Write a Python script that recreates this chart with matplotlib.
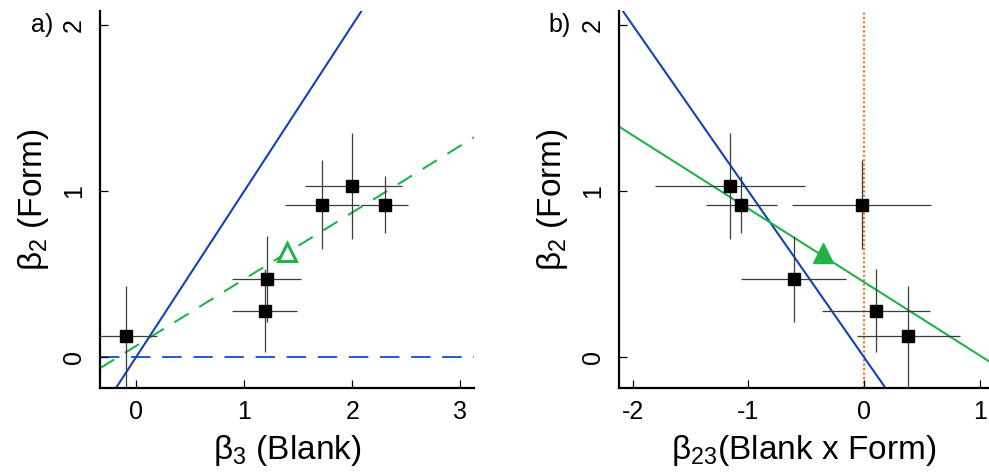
import matplotlib
matplotlib.use("Agg")
import matplotlib.pyplot as plt
import numpy as np

plt.rcParams['font.family'] = ['Liberation Sans', 'DejaVu Sans']
plt.rcParams['mathtext.fontset'] = 'custom'
plt.rcParams['mathtext.rm'] = 'Liberation Sans'
plt.rcParams['mathtext.default'] = 'regular'
plt.rcParams['axes.unicode_minus'] = False

# estimates for the six groups (same order in both panels)
beta2 = [0.13, 0.47, 0.28, 0.92, 1.03, 0.92]
beta2_lo = [-0.20, 0.21, 0.03, 0.65, 0.71, 0.75]
beta2_hi = [0.43, 0.73, 0.53, 1.19, 1.35, 1.09]

beta3 = [-0.09, 1.21, 1.19, 1.72, 2.00, 2.30]
beta3_lo = [-0.37, 0.89, 0.89, 1.38, 1.56, 2.08]
beta3_hi = [0.19, 1.53, 1.49, 2.06, 2.46, 2.52]

beta23 = [0.38, -0.61, 0.10, -0.02, -1.16, -1.06]
beta23_lo = [-0.06, -1.06, -0.36, -0.62, -1.81, -1.37]
beta23_hi = [0.83, -0.16, 0.57, 0.58, -0.51, -0.75]

# fitted lines and pooled estimates
fit_a = (0.068, 0.402)   # intercept, slope
fit_b = (0.453, -0.442)
mean_a = (1.40, 0.636)
mean_b = (-0.358, 0.626)

BLUE = '#1242b4'
BLUE_D = '#1f5cc8'
GREEN = '#22b24a'
ORANGE = '#f07a30'
ERR = '#3c3c3c'


def style_axes(ax, xlim, ylim, xticks):
    ax.set_xlim(*xlim)
    ax.set_ylim(*ylim)
    ax.spines['top'].set_visible(False)
    ax.spines['right'].set_visible(False)
    for s in ['left', 'bottom']:
        ax.spines[s].set_linewidth(1.6)
    ax.set_xticks(xticks)
    ax.set_yticks([0, 1, 2])
    ax.tick_params(axis='both', direction='in', length=6, width=0.9,
                   labelsize=18)
    ax.tick_params(axis='x', pad=9)
    ax.tick_params(axis='y', pad=10)
    for lab in ax.get_yticklabels():
        lab.set_rotation(90)
        lab.set_va('center')


def draw_points(ax, xs, xlo, xhi, ys, ylo, yhi):
    xs = np.array(xs); ys = np.array(ys)
    xerr = [xs - np.array(xlo), np.array(xhi) - xs]
    yerr = [ys - np.array(ylo), np.array(yhi) - ys]
    ax.errorbar(xs, ys, xerr=xerr, yerr=yerr, fmt='none', ecolor=ERR,
                elinewidth=0.9, capsize=0, zorder=3)
    ax.plot(xs, ys, 's', color='black', markersize=8.5, zorder=4)


fig = plt.figure(figsize=(9.89, 4.76), dpi=100)
ax1 = fig.add_axes([0.1011, 0.1849, 0.3782, 0.792])
ax2 = fig.add_axes([0.6259, 0.1849, 0.3741, 0.792])

ylim = (-0.185, 2.086)

# panel a
style_axes(ax1, (-0.333, 3.127), ylim, [0, 1, 2, 3])
ax1.axhline(0, color=BLUE_D, lw=1.4, dashes=(10, 6), zorder=1)
ax1.axline((0, 0), slope=1, color=BLUE, lw=1.5, zorder=2)
ax1.axline((0, fit_a[0]), slope=fit_a[1], color=GREEN, lw=1.5,
           dashes=(8, 6), zorder=2)
draw_points(ax1, beta3, beta3_lo, beta3_hi, beta2, beta2_lo, beta2_hi)
ax1.plot(*mean_a, '^', markersize=13, markerfacecolor='white',
         markeredgecolor=GREEN, markeredgewidth=2.2, zorder=5)
ax1.set_xlabel(r'β$_3$ (Blank)', fontsize=24, labelpad=6)
ax1.set_ylabel(r'β$_2$ (Form)', fontsize=24, labelpad=8)
fig.text(0.043, 0.948, 'a)', fontsize=18, ha='center', va='center')

# panel b
style_axes(ax2, (-2.119, 1.08), ylim, [-2, -1, 0, 1])
ax2.axvline(0, color=ORANGE, lw=1.6, linestyle=(0, (1, 1)), zorder=1)
ax2.axline((0, 0), slope=-1, color=BLUE, lw=1.5, zorder=2)
ax2.axline((0, fit_b[0]), slope=fit_b[1], color=GREEN, lw=1.5, zorder=2)
draw_points(ax2, beta23, beta23_lo, beta23_hi, beta2, beta2_lo, beta2_hi)
ax2.plot(*mean_b, '^', markersize=14, color=GREEN, zorder=5)
ax2.set_xlabel(r'β$_{23}$(Blank x Form)', fontsize=24, labelpad=6)
ax2.set_ylabel(r'β$_2$ (Form)', fontsize=24, labelpad=8)
fig.text(0.566, 0.948, 'b)', fontsize=18, ha='center', va='center')

fig.savefig('out.png', dpi=100)
